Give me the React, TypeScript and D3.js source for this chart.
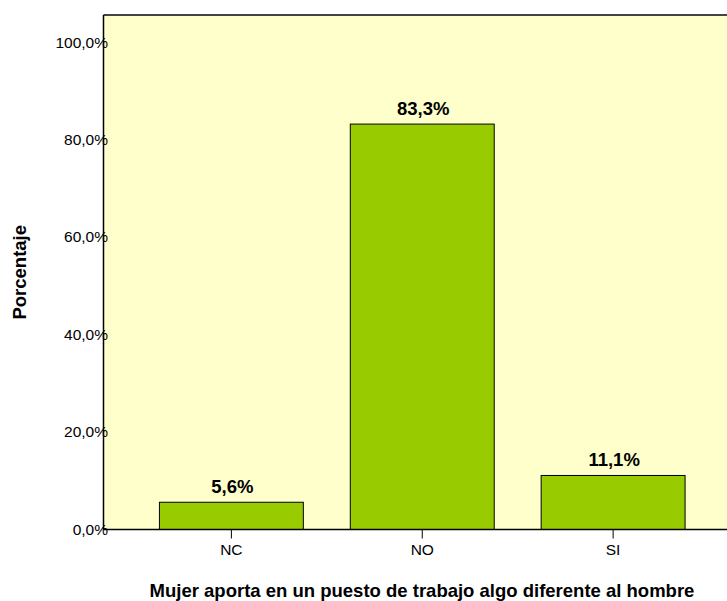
import React from "react";
import * as d3 from "d3";

// Answer categories and their percentages
const categories: string[] = ["NC", "NO", "SI"];
const percentages: number[] = [5.6, 83.3, 11.1];
const yTicks: number[] = [0, 20, 40, 60, 80, 100];

const WIDTH = 727;
const HEIGHT = 601;

const fmt = (v: number) => v.toFixed(1).replace(".", ",") + "%";

export default function App() {
  const left = 103.5;
  const right = 741;
  const top = 15;
  const bottom = 529.5;

  const x = d3
    .scaleBand<string>()
    .domain(categories)
    .range([left, right])
    .paddingInner(0.246)
    .paddingOuter(0.293);

  const y = d3.scaleLinear().domain([0, 100]).range([bottom, 42.8]);

  const font = "'Liberation Sans', Arial, Helvetica, sans-serif";

  return (
    <svg
      width={WIDTH}
      height={HEIGHT}
      style={{ position: "fixed", left: 0, top: 0, background: "#fff" }}
      fontFamily={font}
    >
      {/* plot background */}
      <rect x={left} y={top} width={right - left} height={bottom - top} fill="#FFFFCC" />
      <line x1={left} x2={right} y1={top} y2={top} stroke="#444" strokeWidth={2} />

      {/* bars */}
      {categories.map((c, i) => (
        <g key={c}>
          <rect
            x={x(c)!}
            y={y(percentages[i])}
            width={x.bandwidth()}
            height={bottom - y(percentages[i])}
            fill="#99CC00"
            stroke="#000"
            strokeWidth={1}
          />
          <text
            x={x(c)! + x.bandwidth() / 2 + 1}
            y={y(percentages[i]) - 9}
            textAnchor="middle"
            fontWeight="bold"
            fontSize={18.5}
            fill="#000"
          >
            {fmt(percentages[i])}
          </text>
        </g>
      ))}

      {/* axes */}
      <line x1={left} x2={left} y1={top} y2={bottom} stroke="#000" strokeWidth={1.5} />
      <line x1={left} x2={right} y1={bottom} y2={bottom} stroke="#000" strokeWidth={1.5} />

      {yTicks.map((t) => (
        <text key={t} x={108} y={y(t) + 5} textAnchor="end" fontSize={15.5} fill="#000">
          {fmt(t)}
        </text>
      ))}

      {categories.map((c) => {
        const cx = x(c)! + x.bandwidth() / 2;
        return (
          <g key={c}>
            <line x1={cx} x2={cx} y1={bottom} y2={bottom + 9} stroke="#000" strokeWidth={1} />
            <text x={cx} y={555} textAnchor="middle" fontSize={15.5} fill="#000">
              {c}
            </text>
          </g>
        );
      })}

      {/* axis titles */}
      <text
        transform={`translate(26, ${(top + bottom) / 2}) rotate(-90)`}
        textAnchor="middle"
        fontWeight="bold"
        fontSize={18.5}
        fill="#000"
      >
        Porcentaje
      </text>
      <text x={422} y={597} textAnchor="middle" fontWeight="bold" fontSize={18.5} fill="#000">
        Mujer aporta en un puesto de trabajo algo diferente al hombre
      </text>
    </svg>
  );
}
